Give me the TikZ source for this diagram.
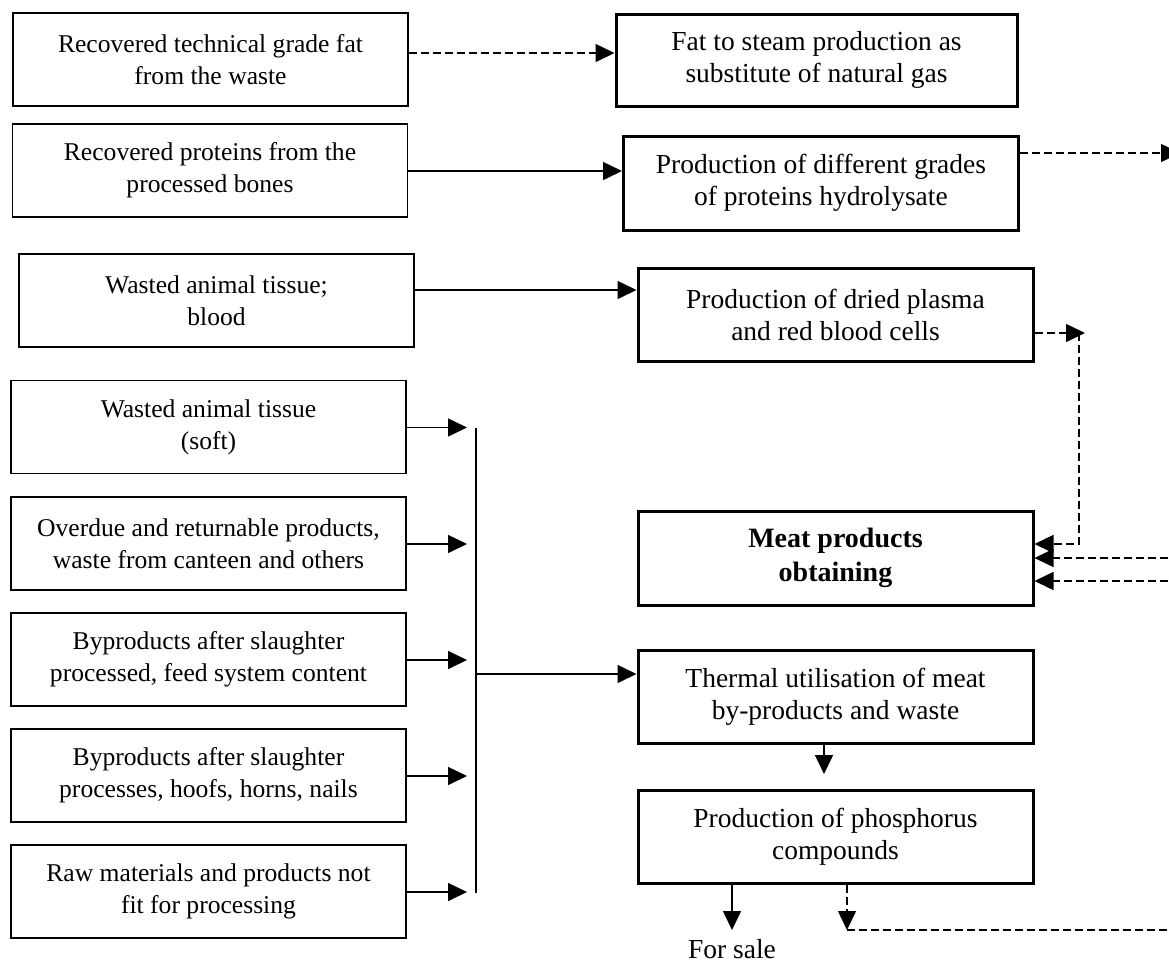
\documentclass[tikz,border=0pt]{standalone}
\usepackage{fontspec}
\setmainfont{Liberation Serif}
\usetikzlibrary{arrows.meta}
\begin{document}
\begin{tikzpicture}[x=1pt,y=-1pt,
 lbox/.style={draw, line width=1.5pt, minimum width=395pt, minimum height=93pt, inner sep=0pt, align=center, font=\fontsize{25.6}{32}\selectfont},
 rbox/.style={draw, line width=3pt, minimum width=395pt, minimum height=93pt, inner sep=0pt, align=center, font=\fontsize{27.5}{32}\selectfont},
 arr/.style={line width=1.5pt, -{Triangle[length=19pt,width=18pt]}},
 dasharr/.style={arr, dash pattern=on 8pt off 4pt},
 dline/.style={line width=1.5pt, dash pattern=on 8pt off 4pt},
 sline/.style={line width=1.5pt}]
\clip (0,0) rectangle (1169,962);
\fill[white] (0,0) rectangle (1169,962);
% left boxes
\node[lbox] (n1) at (210.5,59.5) {Recovered technical grade fat\\from the waste};
\node[lbox] (n2) at (210,170.5) {Recovered proteins from the\\processed bones};
\node[lbox] (n3) at (216.5,300.5) {Wasted animal tissue;\\blood};
\node[lbox] (n4) at (208.5,427) {Wasted animal tissue\\(soft)};
\node[lbox] (n5) at (208.5,543.5) {Overdue and returnable products,\\waste from canteen and others};
\node[lbox] (n6) at (208.5,659.5) {Byproducts after slaughter\\processed, feed system content};
\node[lbox] (n7) at (208.5,775.5) {Byproducts after slaughter\\processes, hoofs, horns, nails};
\node[lbox] (n8) at (208.5,891.5) {Raw materials and products not\\fit for processing};
% right boxes
\node[rbox, minimum width=401pt, minimum height=92pt] (A) at (816.5,60) {Fat to steam production as\\substitute of natural gas};
\node[rbox, minimum height=94pt] (B) at (821,183) {Production of different grades\\of proteins hydrolysate};
\node[rbox] (C) at (835.5,314.5) {Production of dried plasma\\and red blood cells};
\node[rbox, minimum height=94pt, font=\fontsize{28}{34}\selectfont\bfseries] (D) at (835.5,558) {Meat products\\obtaining};
\node[rbox] (E) at (835.5,696.5) {Thermal utilisation of meat\\by-products and waste};
\node[rbox] (F) at (835.5,836.5) {Production of phosphorus\\compounds};
\node[font=\fontsize{27.5}{32}\selectfont, anchor=base, inner sep=0pt] (sale) at (732,958) {For sale};
% coordinates
\coordinate (r1) at (1180,153);
\coordinate (c1) at (1085,333);
\coordinate (c2) at (1079,333);
\coordinate (r2) at (1180,558);
\coordinate (r3) at (1180,581);
\coordinate (s1) at (732,930);
\coordinate (d1) at (847,930);
\coordinate (r4) at (1180,930);
\coordinate (e1) at (824,774);
\coordinate (b1) at (476,428);
\coordinate (b2) at (476,893);
\coordinate (bm) at (476,674);
\coordinate (tipx) at (467,0);
% connectors
\draw[dasharr] ([yshift=6.5pt]n1.east) -- ([yshift=6.5pt]n1.east -| A.west);
\draw[arr] ([yshift=-0.5pt]n2.east) -- ([yshift=-0.5pt]n2.east -| B.west);
\draw[arr] ([yshift=10.5pt]n3.east) -- ([yshift=10.5pt]n3.east -| C.west);
\draw[dasharr] ([yshift=30pt]B.east) -- (r1);
\draw[dasharr] ([yshift=-18.5pt]C.east) -- (c1);
\draw[dasharr] (c2) |- ([yshift=14pt]D.east);
\draw[dasharr] (r2) -- (r2 -| D.east);
\draw[dasharr] (r3) -- (r3 -| D.east);
\draw[arr] ([xshift=-103.5pt]F.south) -- (s1);
\draw[dasharr] ([xshift=11.5pt]F.south) -- (d1);
\draw[dline] (d1) -- (r4);
\draw[arr] ([xshift=-11.5pt]E.south) -- (e1);
\draw[sline] (b1) -- (b2);
\foreach \i in {4,...,8} {
  \draw[arr] ([yshift=-0.5pt]n\i.east) -- ([yshift=-0.5pt]n\i.east -| tipx);
}
\draw[arr] (bm) -- (bm -| E.west);
\end{tikzpicture}
\end{document}
